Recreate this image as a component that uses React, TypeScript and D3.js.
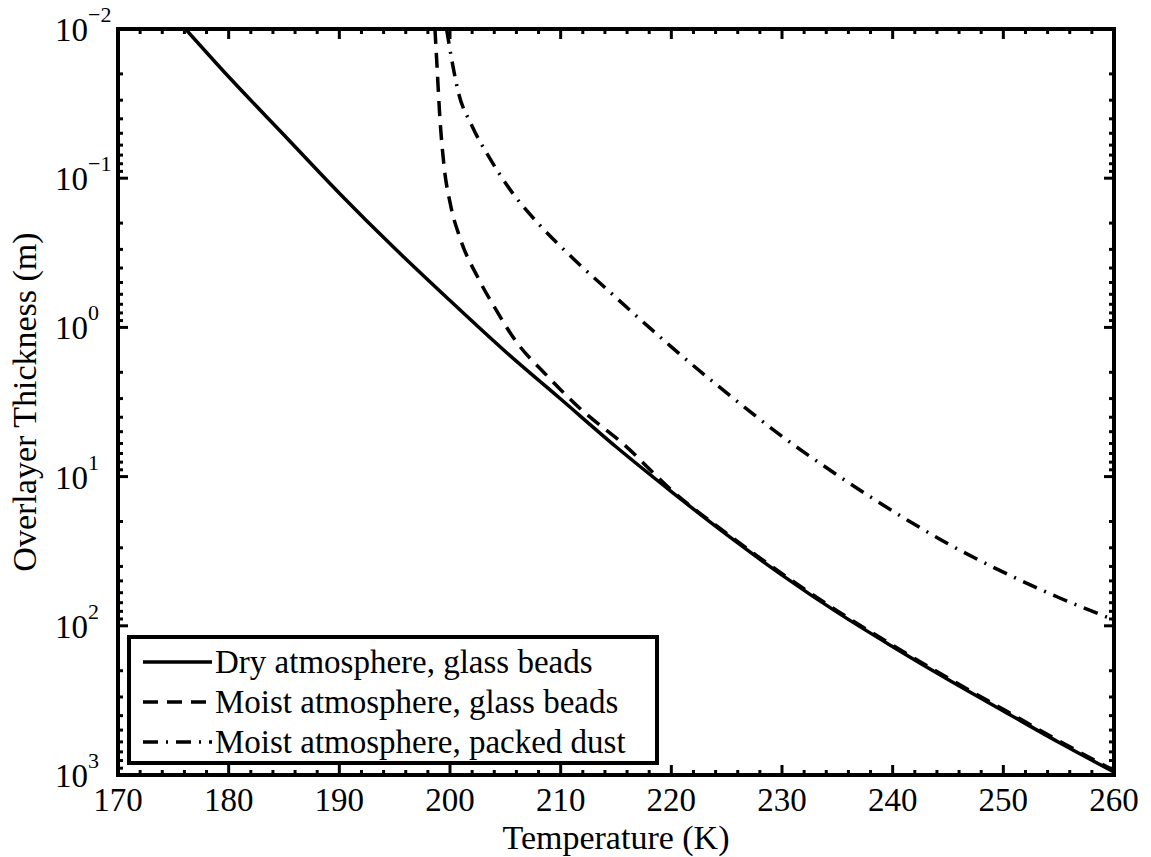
import React from "react";
import * as d3 from "d3";

// ---------- data (temperature in K, overlayer thickness in m) ----------
const dryT = [176.1, 180, 185, 190, 195, 200, 205, 210, 215, 220, 225, 230, 235, 240, 245, 250, 255, 260];
const dryY = [0.01, 0.0209, 0.0513, 0.126, 0.295, 0.661, 1.45, 3.02, 6.31, 12.6, 24.5, 45.7, 81.3, 138, 229, 372, 603, 955];

const moistBeadsT = [198.64, 198.79, 199.09, 199.45, 200.05, 200.9, 202.55, 204.06, 206.0, 208.7, 211.7, 215.8, 220, 225, 230, 235, 240, 245, 250, 255, 260];
const moistBeadsY = [0.01, 0.0158, 0.0398, 0.0813, 0.151, 0.251, 0.468, 0.741, 1.25, 2.08, 3.47, 6.17, 12.3, 24.0, 44.7, 79.4, 135, 224, 363, 589, 933];

const dustT = [199.69, 200.14, 200.74, 201.95, 203.6, 205.56, 208.1, 211.1, 214.4, 218, 220, 225, 230, 235, 240, 245, 250, 255, 260];
const dustY = [0.01, 0.0158, 0.0263, 0.044, 0.0736, 0.123, 0.206, 0.344, 0.575, 1.0, 1.35, 2.75, 5.37, 9.77, 17.0, 28.2, 43.7, 64.6, 91.2];

const xTicks = [170, 180, 190, 200, 210, 220, 230, 240, 250, 260];
const yTicks = [0.01, 0.1, 1, 10, 100, 1000];
const yTickExponents = ["\u22122", "\u22121", "0", "1", "2", "3"];

const seriesLabels = [
  "Dry atmosphere, glass beads",
  "Moist atmosphere, glass beads",
  "Moist atmosphere, packed dust",
];
const seriesDash = ["none", "15,9", "15,8,2,8"];

const xLabel = "Temperature (K)";
const yLabel = "Overlayer Thickness (m)";

// ---------- layout ----------
const W = 1151;
const H = 857;
const L = 118;
const R = 1114;
const T = 29;
const B = 775;
const FONT = "'Liberation Serif', 'Times New Roman', Times, serif";

export default function App() {
  const x = d3.scaleLinear().domain([170, 260]).range([L, R]);
  const y = d3.scaleLog().domain([0.01, 1000]).range([T, B]);

  const line = d3
    .line<[number, number]>()
    .x((d) => x(d[0]))
    .y((d) => y(d[1]))
    .curve(d3.curveMonotoneX);

  const series = [
    d3.zip(dryT, dryY) as [number, number][],
    d3.zip(moistBeadsT, moistBeadsY) as [number, number][],
    d3.zip(dustT, dustY) as [number, number][],
  ];

  const xMinor: number[] = [];
  for (let v = 170; v <= 260; v += 2) if (v % 10 !== 0) xMinor.push(v);
  const yMinor: number[] = [];
  for (let e = -2; e < 3; e++) for (let m = 2; m <= 9; m++) yMinor.push(m * Math.pow(10, e));

  const major = 10;
  const minor = 5;
  const tickW = 3;

  return (
    <svg
      width={W}
      height={H}
      style={{ position: "absolute", left: 0, top: 0, background: "#fff" }}
      fontFamily={FONT}
    >
      <rect x={0} y={0} width={W} height={H} fill="#fff" />
      <defs>
        <clipPath id="plot">
          <rect x={L} y={T} width={R - L} height={B - T} />
        </clipPath>
      </defs>

      {/* data lines */}
      <g clipPath="url(#plot)" fill="none" stroke="#000" strokeWidth={3.5}>
        {series.map((s, i) => (
          <path key={i} d={line(s) || ""} strokeDasharray={seriesDash[i]} />
        ))}
      </g>

      {/* ticks */}
      <g stroke="#000" strokeWidth={tickW}>
        {xTicks.map((v) => (
          <g key={"xt" + v}>
            <line x1={x(v)} x2={x(v)} y1={B} y2={B - major} />
            <line x1={x(v)} x2={x(v)} y1={T} y2={T + major} />
          </g>
        ))}
        {xMinor.map((v) => (
          <g key={"xm" + v}>
            <line x1={x(v)} x2={x(v)} y1={B} y2={B - minor} />
            <line x1={x(v)} x2={x(v)} y1={T} y2={T + minor} />
          </g>
        ))}
        {yTicks.map((v) => (
          <g key={"yt" + v}>
            <line x1={L} x2={L + major} y1={y(v)} y2={y(v)} />
            <line x1={R} x2={R - major} y1={y(v)} y2={y(v)} />
          </g>
        ))}
        {yMinor.map((v) => (
          <g key={"ym" + v}>
            <line x1={L} x2={L + minor} y1={y(v)} y2={y(v)} />
            <line x1={R} x2={R - minor} y1={y(v)} y2={y(v)} />
          </g>
        ))}
      </g>

      {/* axes box */}
      <rect x={L} y={T} width={R - L} height={B - T} fill="none" stroke="#000" strokeWidth={4} />

      {/* x tick labels */}
      <g fontSize={33} textAnchor="middle" fill="#000">
        {xTicks.map((v) => (
          <text key={"xl" + v} x={x(v)} y={B + 36}>
            {v}
          </text>
        ))}
      </g>

      {/* y tick labels */}
      <g fontSize={33} fill="#000">
        {yTicks.map((v, i) => (
          <text key={"yl" + v} x={55} y={y(v) + 12}>
            10
            <tspan fontSize={22} dy={-19}>
              {yTickExponents[i]}
            </tspan>
          </text>
        ))}
      </g>

      {/* axis labels */}
      <text x={(L + R) / 2} y={849} fontSize={34} textAnchor="middle" fill="#000">
        {xLabel}
      </text>
      <text
        transform={`translate(36, ${(T + B) / 2}) rotate(-90)`}
        fontSize={34}
        textAnchor="middle"
        fill="#000"
      >
        {yLabel}
      </text>

      {/* legend */}
      <g>
        <rect x={129} y={637} width={528} height={126} fill="#fff" stroke="#000" strokeWidth={4} />
        {seriesLabels.map((lab, i) => {
          const cy = 662 + i * 40;
          return (
            <g key={"lg" + i}>
              <line
                x1={143}
                x2={212}
                y1={cy}
                y2={cy}
                stroke="#000"
                strokeWidth={3.5}
                strokeDasharray={seriesDash[i]}
              />
              <text x={215} y={cy + 11} fontSize={33} fill="#000">
                {lab}
              </text>
            </g>
          );
        })}
      </g>
    </svg>
  );
}
